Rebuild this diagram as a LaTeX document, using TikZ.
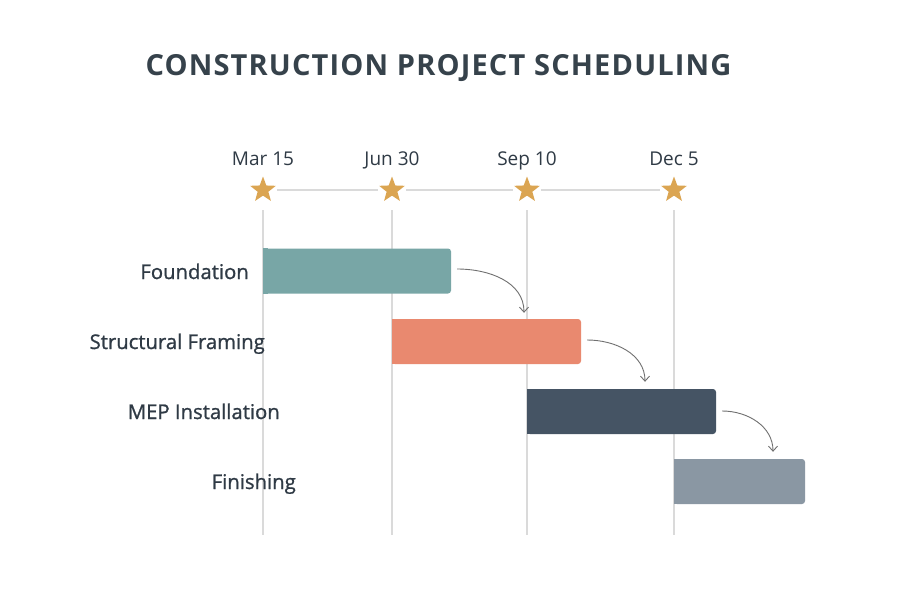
\documentclass[tikz,border=0pt]{standalone}
\usepackage{fontspec}
\setmainfont{Open Sans}
\newfontfamily\titlefont[LetterSpace=4]{Open Sans}
\newfontfamily\labelfont[FakeBold=1]{Open Sans}
\usepackage{xcolor}
\usetikzlibrary{shapes.geometric,arrows.meta}
\definecolor{foundc}{HTML}{78A6A6}
\definecolor{framec}{HTML}{E9896F}
\definecolor{mepc}{HTML}{455464}
\definecolor{finishc}{HTML}{8A97A3}
\definecolor{starc}{HTML}{DBA552}
\definecolor{gridc}{HTML}{DADADA}
\definecolor{arrowc}{HTML}{707070}
\definecolor{labelc}{HTML}{2F3A45}
\definecolor{titlec}{HTML}{36424B}
\tikzset{
  bar/.style={rectangle, inner sep=0pt, minimum height=45pt, rounded corners=3pt},
  milestone/.style={star, star points=5, star point ratio=2.4, fill=starc, minimum size=27pt, inner sep=0pt},
  grid/.style={draw=gridc, line width=1.1pt},
  dep/.style={draw=arrowc, line width=0.9pt, -{Straight Barb[length=5pt,width=9pt]}},
  task/.style={anchor=base east, inner sep=0pt, font=\labelfont\fontsize{20.3}{22}\selectfont, text=labelc},
  date/.style={anchor=base, inner sep=0pt, font=\fontsize{19}{21}\selectfont, text=labelc},
}
\begin{document}
\begin{tikzpicture}[x=1pt,y=-1pt]
    \useasboundingbox[fill=white] (0,0) rectangle (900,600);
    % title
    \node[font=\titlefont\bfseries\fontsize{29}{32}\selectfont, text=titlec] (title) at (438.5,68) {CONSTRUCTION PROJECT SCHEDULING};

    % milestones
    \node[milestone] (m1) at (263,190) {};
    \node[milestone] (m2) at (392,190) {};
    \node[milestone] (m3) at (527,190) {};
    \node[milestone] (m4) at (674,190) {};
    \node[date] (d1) at (263,165.5) {Mar 15};
    \node[date] (d2) at (392,165.5) {Jun 30};
    \node[date] (d3) at (527,165.5) {Sep 10};
    \node[date] (d4) at (674,165.5) {Dec 5};
    % timeline
    \draw[grid, shorten <=6pt, shorten >=6pt] (m1) -- (m2);
    \draw[grid, shorten <=6pt, shorten >=6pt] (m2) -- (m3);
    \draw[grid, shorten <=6pt, shorten >=6pt] (m3) -- (m4);
    % |
    \coordinate (v1) at (263,535);
    \coordinate (v2) at (392,535);
    \coordinate (v3) at (527,535);
    \coordinate (v4) at (674,535);
    \draw[grid] ([yshift=-20pt]m1.center) -- (v1);
    \draw[grid] ([yshift=-20pt]m2.center) -- (v2);
    \draw[grid] ([yshift=-20pt]m3.center) -- (v3);
    \draw[grid] ([yshift=-20pt]m4.center) -- (v4);

    % bars
    \node[bar, fill=foundc, minimum width=188pt] (found) at (357,271) {};
    \fill[foundc] (found.north west) rectangle ([xshift=5pt]found.south west);
    \node[bar, fill=framec, minimum width=189pt] (frame) at (486.5,341.5) {};
    \fill[framec] (frame.north west) rectangle ([xshift=5pt]frame.south west);
    \node[bar, fill=mepc, minimum width=189pt] (mep) at (621.5,411.5) {};
    \fill[mepc] (mep.north west) rectangle ([xshift=5pt]mep.south west);
    \node[bar, fill=finishc, minimum width=131pt] (finish) at (739.5,481.5) {};
    \fill[finishc] (finish.north west) rectangle ([xshift=5pt]finish.south west);
    % label
    \node[task] (lfound) at (249,279) {Foundation};
    \node[task] (lframe) at (265,349) {Structural Framing};
    \node[task] (lmep) at (280,419) {MEP Installation};
    \node[task] (lfinish) at (296,489) {Finishing};

    % arrows
    \draw[dep] ([xshift=6pt,yshift=2pt]found.east) to[out=0,in=90] ([xshift=37.5pt,yshift=6pt]frame.north);
    \draw[dep] ([xshift=6pt,yshift=1.5pt]frame.east) to[out=0,in=90] ([xshift=23.5pt,yshift=7pt]mep.north);
    \draw[dep] ([xshift=6pt,yshift=0.5pt]mep.east) to[out=0,in=90] ([xshift=33.5pt,yshift=7pt]finish.north);
\end{tikzpicture}
\end{document}
